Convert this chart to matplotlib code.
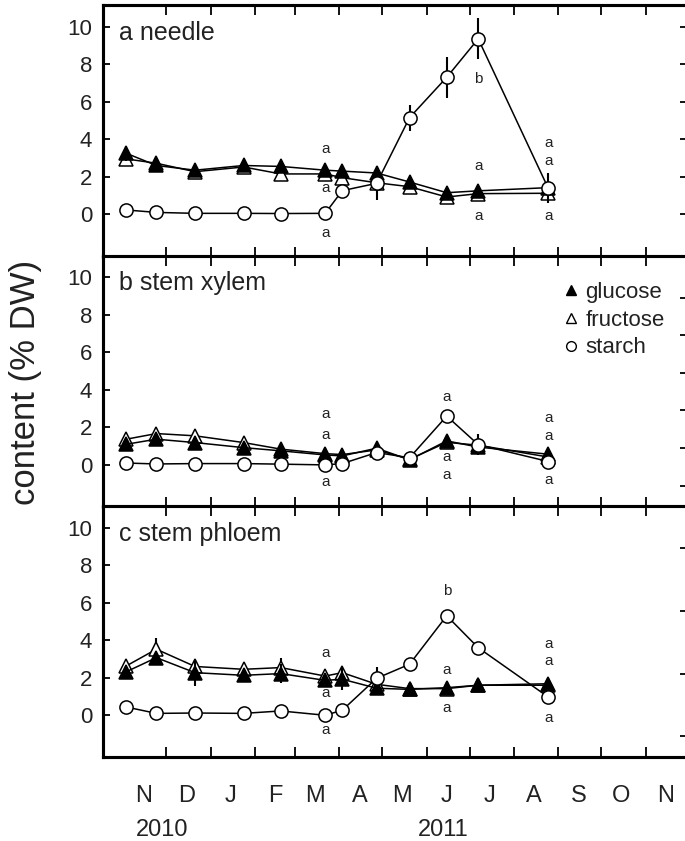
import matplotlib
matplotlib.use('Agg')
import matplotlib.pyplot as plt
from datetime import date

plt.rcParams['font.family'] = ['Liberation Sans', 'DejaVu Sans']

# sampling dates
dates = [date(2010, 11, 3), date(2010, 11, 24), date(2010, 12, 21), date(2011, 1, 24),
         date(2011, 2, 19), date(2011, 3, 22), date(2011, 4, 3), date(2011, 4, 27),
         date(2011, 5, 20), date(2011, 6, 15), date(2011, 7, 7), date(2011, 8, 25)]

# needle
needle_glu = [3.25, 2.6, 2.35, 2.6, 2.55, 2.35, 2.3, 2.2, 1.72, 1.15, 1.25, 1.42]
needle_glu_err = [0.4, 0.1, 0.1, 0.15, 0.1, 0.1, 0.1, 0.1, 0.1, 0.1, 0.1, 0.2]
needle_fru = [2.95, 2.72, 2.27, 2.52, 2.15, 2.15, 1.95, 1.68, 1.47, 0.92, 1.1, 1.12]
needle_fru_err = [0.3, 0.1, 0.1, 0.1, 0.1, 0.1, 0.1, 0.1, 0.1, 0.1, 0.1, 0.2]
needle_sta = [0.23, 0.1, 0.05, 0.05, 0.04, 0.05, 1.26, 1.65, 5.15, 7.3, 9.35, 1.38]
needle_sta_err = [0.05, 0.05, 0.05, 0.05, 0.05, 0.05, 0.1, 0.9, 0.7, 1.1, 1.1, 0.8]

# stem xylem
xylem_glu = [1.1, 1.37, 1.19, 0.92, 0.75, 0.53, 0.48, 0.89, 0.27, 1.28, 0.95, 0.57]
xylem_glu_err = [0.1, 0.1, 0.1, 0.1, 0.1, 0.1, 0.1, 0.1, 0.1, 0.2, 0.2, 0.1]
xylem_fru = [1.37, 1.67, 1.55, 1.19, 0.84, 0.6, 0.55, 0.8, 0.3, 1.2, 1.05, 0.42]
xylem_fru_err = [0.1, 0.1, 0.1, 0.1, 0.1, 0.1, 0.1, 0.1, 0.1, 0.1, 0.1, 0.1]
xylem_sta = [0.1, 0.05, 0.07, 0.07, 0.04, 0.0, 0.07, 0.66, 0.38, 2.6, 1.08, 0.18]
xylem_sta_err = [0.05, 0.05, 0.05, 0.05, 0.05, 0.05, 0.05, 0.1, 0.1, 0.1, 0.55, 0.2]

# stem phloem
phloem_glu = [2.32, 3.07, 2.27, 2.13, 2.22, 1.86, 1.92, 1.44, 1.38, 1.47, 1.6, 1.68]
phloem_glu_err = [0.1, 0.2, 0.7, 0.1, 0.5, 0.1, 0.6, 0.1, 0.1, 0.3, 0.1, 0.1]
phloem_fru = [2.63, 3.52, 2.6, 2.45, 2.54, 2.09, 2.27, 1.65, 1.42, 1.42, 1.6, 1.6]
phloem_fru_err = [0.1, 0.6, 0.3, 0.1, 0.5, 0.1, 0.2, 0.1, 0.1, 0.1, 0.1, 0.1]
phloem_sta = [0.44, 0.1, 0.12, 0.1, 0.23, 0.0, 0.27, 1.97, 2.72, 5.3, 3.6, 0.97]
phloem_sta_err = [0.05, 0.05, 0.05, 0.05, 0.05, 0.05, 0.05, 0.6, 0.3, 0.3, 0.1, 0.3]

panel_titles = ['a needle', 'b stem xylem', 'c stem phloem']

# significance letters: (sample index, baseline y, letter)
needle_letters = [(5, 3.28, 'a'), (5, 1.19, 'a'), (5, -1.2, 'a'),
                  (10, 7.0, 'b'), (10, 2.37, 'a'), (10, -0.33, 'a'),
                  (11, 3.58, 'a'), (11, 2.6, 'a'), (11, -0.33, 'a')]
xylem_letters = [(5, 2.5, 'a'), (5, 1.4, 'a'), (5, -1.1, 'a'),
                 (9, 3.42, 'a'), (9, 0.19, 'a'), (9, -0.73, 'a'),
                 (11, 2.29, 'a'), (11, 1.31, 'a'), (11, -1.02, 'a')]
phloem_letters = [(5, 3.13, 'a'), (5, 0.95, 'a'), (5, -1.0, 'a'),
                  (9, 6.41, 'b'), (9, 2.2, 'a'), (9, 0.17, 'a'),
                  (11, 3.61, 'a'), (11, 2.66, 'a'), (11, -0.36, 'a')]

# odd right-hand tick positions of each panel
right_ticks = [[0, 2, 4, 6, 8, 10],
               [-1.1, 0.9, 2.9, 4.9, 6.9, 8.9],
               [-1.1, 2.2, 5.55, 8.9]]

panels = [
    (needle_glu, needle_glu_err, needle_fru, needle_fru_err, needle_sta, needle_sta_err, needle_letters),
    (xylem_glu, xylem_glu_err, xylem_fru, xylem_fru_err, xylem_sta, xylem_sta_err, xylem_letters),
    (phloem_glu, phloem_glu_err, phloem_fru, phloem_fru_err, phloem_sta, phloem_sta_err, phloem_letters),
]

fig = plt.figure(figsize=(6.85, 8.41), dpi=100)

bottoms = [0.695, 0.397, 0.0993]
month_starts = [date(2010, 12, 1)] + [date(2011, m, 1) for m in range(1, 12)]
month_mids = [date(2010, 11, 15), date(2010, 12, 15)] + [date(2011, m, 15) for m in range(1, 12)]
month_names = ['N', 'D', 'J', 'F', 'M', 'A', 'M', 'J', 'J', 'A', 'S', 'O', 'N']

for i, (glu, glu_e, fru, fru_e, sta, sta_e, letters) in enumerate(panels):
    ax = fig.add_axes([0.151, bottoms[i], 0.852, 0.299])

    ax.errorbar(dates, fru, yerr=fru_e, color='black', lw=1.1, elinewidth=1.5, capsize=0,
                marker='^', ms=10, mfc='white', mec='black', mew=1.1, zorder=3)
    ax.errorbar(dates, glu, yerr=glu_e, color='black', lw=1.1, elinewidth=1.5, capsize=0,
                marker='^', ms=10, mfc='black', mec='black', mew=1.1, zorder=4)
    ax.errorbar(dates, sta, yerr=sta_e, color='black', lw=1.1, elinewidth=1.5, capsize=0,
                marker='o', ms=9.5, mfc='white', mec='black', mew=1.1, zorder=5)

    for idx, yb, txt in letters:
        ax.text(dates[idx], yb, txt, ha='center', va='baseline', fontsize=11, color='#222222')

    ax.text(0.027, 0.862, panel_titles[i], transform=ax.transAxes, fontsize=18,
            va='baseline', ha='left', color='#222222')

    ax.set_xlim(date(2010, 10, 18), date(2011, 11, 30))
    ax.set_ylim(-2.25, 11.15)
    ax.set_yticks([0, 2, 4, 6, 8, 10])
    ax.set_xticks(month_starts)
    ax.set_xticklabels([])
    ax.xaxis.set_ticks_position('both')
    ax.tick_params(axis='x', which='major', direction='in', length=7, width=1.3)
    ax.tick_params(axis='y', direction='in', length=5, width=1.3, labelsize=16,
                   labelcolor='#222222', pad=8)

    if i == 2:
        ax.set_xticks(month_mids, minor=True)
        ax.set_xticklabels(month_names, minor=True)
        ax.tick_params(axis='x', which='minor', length=0, labelsize=17,
                       labelcolor='#222222', pad=20)

    ax2 = ax.twinx()
    ax2.set_ylim(ax.get_ylim())
    ax2.set_yticks(right_ticks[i])
    ax2.tick_params(axis='y', direction='in', length=5, width=1.3, labelright=False)

    for a in (ax, ax2):
        for sp in a.spines.values():
            sp.set_linewidth(2.2)

    if i == 1:
        h1 = plt.Line2D([], [], ls='none', marker='^', ms=7, mfc='black', mec='black')
        h2 = plt.Line2D([], [], ls='none', marker='^', ms=7, mfc='white', mec='black')
        h3 = plt.Line2D([], [], ls='none', marker='o', ms=7, mfc='white', mec='black')
        ax.legend([h1, h2, h3], ['glucose', 'fructose', 'starch'], loc='upper left',
                  bbox_to_anchor=(0.79, 0.895), frameon=False, fontsize=16,
                  handlelength=0.6, handletextpad=0.35, labelspacing=0.3,
                  borderpad=0, borderaxespad=0, labelcolor='#222222')

fig.text(0.037, 0.545, 'content (% DW)', rotation=90, ha='center', va='center',
         fontsize=25, color='#222222')
fig.text(0.2365, 0.013, '2010', ha='center', va='center', fontsize=17, color='#222222')
fig.text(0.647, 0.013, '2011', ha='center', va='center', fontsize=17, color='#222222')

fig.savefig('out.png', dpi=100)
plt.close(fig)
